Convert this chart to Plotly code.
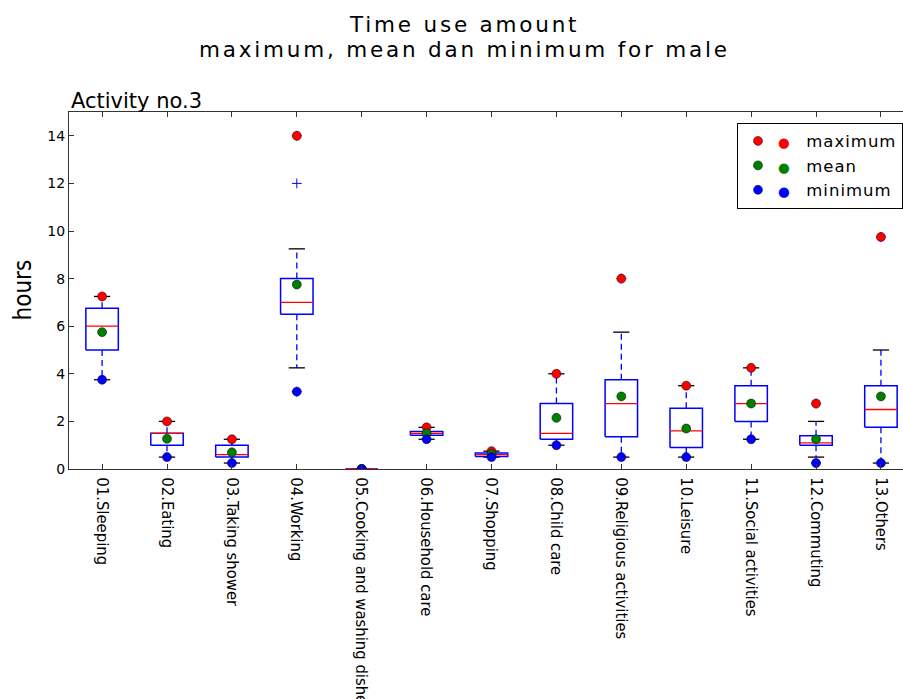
import plotly.graph_objects as go

categories = ["01.Sleeping", "02.Eating", "03.Taking shower", "04.Working",
              "05.Cooking and washing dishes", "06.Household care", "07.Shopping",
              "08.Child care", "09.Religious activities", "10.Leisure",
              "11.Social activities", "12.Commuting", "13.Others"]
maximum = [7.25, 2.0, 1.25, 14.0, 0.0, 1.75, 0.75, 4.0, 8.0, 3.5, 4.25, 2.75, 9.75]
mean = [5.75, 1.27, 0.7, 7.75, 0.0, 1.5, 0.63, 2.15, 3.05, 1.7, 2.75, 1.25, 3.05]
minimum = [3.75, 0.5, 0.25, 3.25, 0.0, 1.25, 0.5, 1.0, 0.5, 0.5, 1.25, 0.25, 0.25]
q1 = [5.0, 1.0, 0.5, 6.5, 0.0, 1.42, 0.53, 1.25, 1.35, 0.9, 2.0, 1.0, 1.75]
median = [6.0, 1.5, 0.6, 7.0, 0.0, 1.5, 0.6, 1.5, 2.75, 1.6, 2.75, 1.1, 2.5]
q3 = [6.75, 1.5, 1.0, 8.0, 0.0, 1.58, 0.67, 2.75, 3.75, 2.55, 3.5, 1.4, 3.5]
whisker_low = [3.75, 0.5, 0.25, 4.25, 0.0, 1.25, 0.5, 1.0, 0.5, 0.5, 1.25, 0.5, 0.25]
whisker_high = [7.25, 2.0, 1.25, 9.25, 0.0, 1.75, 0.75, 4.0, 5.75, 3.5, 4.25, 2.0, 5.0]
fliers = {4: [3.25, 12.0, 14.0], 9: [8.0], 12: [2.75, 0.25], 13: [9.75]}

pos = list(range(1, len(categories) + 1))
BW = 0.25   # half box width
CW = 0.125  # half cap width

box_x, box_y, med_x, med_y, wh_x, wh_y, cap_x, cap_y = [], [], [], [], [], [], [], []
for i, p in enumerate(pos):
    box_x += [p - BW, p + BW, p + BW, p - BW, p - BW, None]
    box_y += [q1[i], q1[i], q3[i], q3[i], q1[i], None]
    med_x += [p - BW, p + BW, None]
    med_y += [median[i], median[i], None]
    wh_x += [p, p, None, p, p, None]
    wh_y += [q3[i], whisker_high[i], None, q1[i], whisker_low[i], None]
    cap_x += [p - CW, p + CW, None, p - CW, p + CW, None]
    cap_y += [whisker_high[i], whisker_high[i], None, whisker_low[i], whisker_low[i], None]

fl_x, fl_y = [], []
for p, vals in fliers.items():
    for v in vals:
        fl_x.append(p)
        fl_y.append(v)

fig = go.Figure()
fig.add_trace(go.Scatter(x=wh_x, y=wh_y, mode="lines", showlegend=False, hoverinfo="skip",
                         line=dict(color="#0000ff", width=1.3, dash="6px,4px")))
fig.add_trace(go.Scatter(x=cap_x, y=cap_y, mode="lines", showlegend=False, hoverinfo="skip",
                         line=dict(color="black", width=1.3)))
fig.add_trace(go.Scatter(x=box_x, y=box_y, mode="lines", showlegend=False, hoverinfo="skip",
                         line=dict(color="#0000ff", width=1.5)))
fig.add_trace(go.Scatter(x=med_x, y=med_y, mode="lines", showlegend=False, hoverinfo="skip",
                         line=dict(color="#ff0000", width=1.3)))
fig.add_trace(go.Scatter(x=fl_x, y=fl_y, mode="markers", showlegend=False,
                         marker=dict(symbol="cross-thin", size=7, line=dict(color="#0000ff", width=1))))

def dot(color):
    return '<span style="color:%s;font-size:13.5px">\u25cf</span>' % color

for name, vals, col in [("maximum", maximum, "#ff0000"), ("mean", mean, "#007f00"), ("minimum", minimum, "#0000ff")]:
    fig.add_trace(go.Scatter(x=pos, y=vals, mode="markers",
                             name=dot(col) + "\u2002\u2002" + '<span style="letter-spacing:1px">' + name + "</span>",
                             marker=dict(color=col, size=9, line=dict(color="black", width=0.5))))

L, T, B = 69, 112, 230
H = 699
plot_h = H - T - B

title_style = '<span style="letter-spacing:2.8px">%s</span>'

fig.update_layout(
    width=903, height=H,
    margin=dict(l=L, r=0, t=T, b=B, pad=0, autoexpand=False),
    paper_bgcolor="white", plot_bgcolor="white",
    font=dict(family="DejaVu Sans", color="black"),
    showlegend=True,
    legend=dict(x=1, xanchor="right", y=0.97, yanchor="top",
                bordercolor="black", borderwidth=1, bgcolor="white",
                font=dict(family="DejaVu Sans", size=16.5, color="black"),
                itemwidth=30, tracegroupgap=0),
    xaxis=dict(range=[0.49, 13.34], tickmode="array", tickvals=pos, ticktext=categories,
               tickangle=90, ticks="inside", ticklen=5, tickcolor="#333",
               showline=True, linecolor="#333", linewidth=1, mirror="ticks",
               showgrid=False, zeroline=False, automargin=False, ticklabelstandoff=4,
               tickfont=dict(family="DejaVu Sans Condensed, Liberation Sans Narrow, Liberation Sans", size=16.5, color="black")),
    yaxis=dict(range=[0, 15], tickvals=[0, 2, 4, 6, 8, 10, 12, 14], ticks="inside", ticklen=5,
               tickcolor="#333", showline=True, linecolor="#333", linewidth=1,
               showgrid=False, zeroline=False, automargin=False,
               tickfont=dict(family="DejaVu Sans", size=14, color="black")),
    annotations=[
        dict(text=title_style % "Time use amount", xref="paper", yref="paper", x=(463.5 - L) / 834,
             y=(H - B - 24) / plot_h, xanchor="center", yanchor="middle", showarrow=False,
             font=dict(family="DejaVu Sans", size=21.5, color="black")),
        dict(text=title_style % "maximum, mean dan minimum for male", xref="paper", yref="paper", x=(464 - L) / 834,
             y=(H - B - 50) / plot_h, xanchor="center", yanchor="middle", showarrow=False,
             font=dict(family="DejaVu Sans", size=21.5, color="black")),
        dict(text="Activity no.3", xref="paper", yref="paper", x=0, xanchor="left",
             y=(H - B - 101) / plot_h, yanchor="middle", showarrow=False,
             font=dict(family="DejaVu Sans", size=21, color="black")),
        dict(text="hours", xref="paper", yref="paper", x=(22 - L) / 834, xanchor="center",
             y=0.5, yanchor="middle", textangle=-90, showarrow=False,
             font=dict(family="DejaVu Sans Condensed, Liberation Sans Narrow, Liberation Sans", size=24, color="black")),
    ],
)

fig.write_html("out.html")
